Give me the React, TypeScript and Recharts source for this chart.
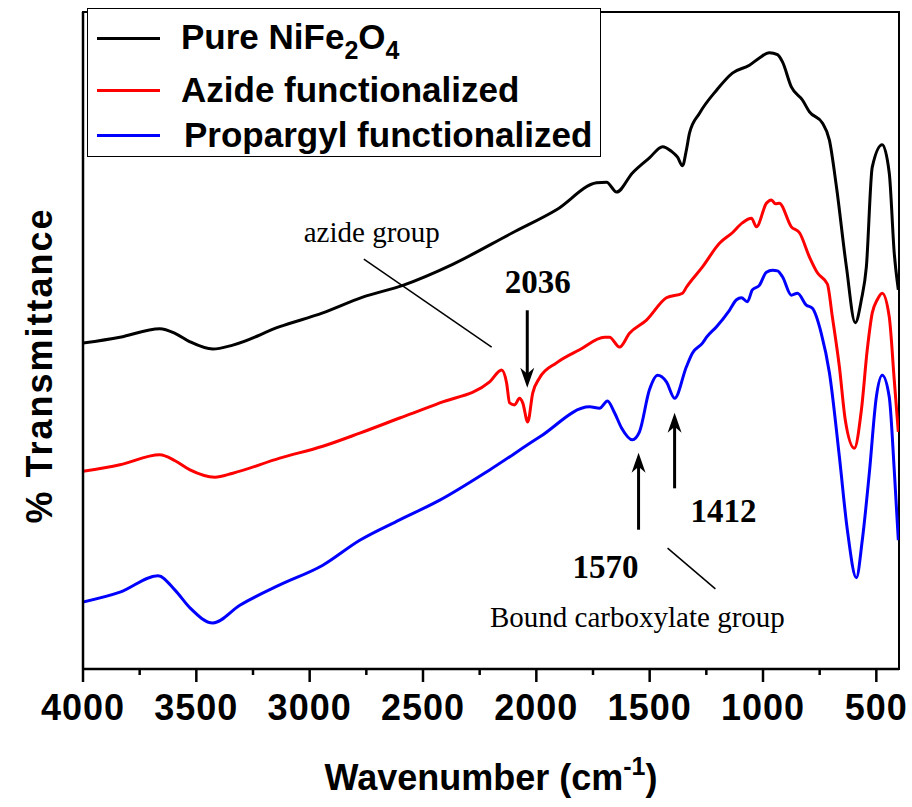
import React from "react";
import {
  LineChart,
  Line,
  XAxis,
  YAxis,
  Legend,
  ReferenceArea,
  ReferenceLine,
  ReferenceDot,
} from "recharts";

// FTIR spectra, values (wavenumber cm-1 / relative % T)
const pureWn = [4000, 3837, 3661, 3594, 3528, 3427, 3339, 3132, 2942, 2766, 2589, 2369, 2105, 1911, 1734, 1690, 1646, 1576, 1501, 1443, 1404, 1377, 1355, 1338, 1324, 1280, 1205, 1135, 1060, 1016, 972, 936, 914, 875, 826, 795, 738, 707, 676, 632, 593, 566, 544, 518, 474, 443, 421, 403];
const pureT = [49.6, 50.5, 51.8, 51.1, 49.8, 48.7, 49.3, 52.1, 54.2, 56.6, 58.4, 61.6, 66.4, 69.9, 74.0, 74.1, 72.6, 75.5, 77.8, 79.5, 78.8, 77.9, 76.6, 79.0, 81.6, 84.6, 88.1, 90.7, 91.9, 93.0, 93.8, 93.5, 92.4, 88.6, 86.6, 84.8, 83.1, 80.5, 73.4, 61.2, 52.7, 56.2, 61.2, 76.4, 79.8, 75.5, 63.3, 57.7];

const azideWn = [4000, 3837, 3661, 3594, 3528, 3418, 3339, 3132, 2942, 2779, 2603, 2426, 2206, 2153, 2131, 2118, 2096, 2074, 2060, 2038, 2016, 1986, 1911, 1809, 1699, 1677, 1633, 1589, 1514, 1426, 1355, 1338, 1267, 1192, 1135, 1091, 1051, 1029, 985, 963, 945, 928, 875, 839, 795, 760, 716, 694, 663, 637, 597, 566, 540, 518, 496, 474, 443, 421, 403];
const azideT = [30.1, 31.1, 32.6, 31.7, 30.3, 29.2, 29.8, 32.1, 33.9, 35.9, 38.2, 40.5, 43.7, 45.5, 43.5, 40.5, 40.2, 41.2, 40.5, 37.6, 42.0, 44.3, 46.6, 48.6, 50.5, 50.5, 49.0, 51.1, 53.1, 56.5, 57.2, 58.1, 61.2, 64.8, 66.4, 67.9, 68.6, 67.3, 70.9, 71.4, 70.8, 70.9, 67.3, 66.4, 62.7, 60.3, 58.6, 53.6, 46.0, 37.9, 33.6, 39.4, 48.6, 54.2, 56.2, 57.2, 53.6, 44.0, 36.1];

const propWn = [4000, 3837, 3669, 3594, 3528, 3427, 3308, 3132, 2942, 2779, 2603, 2426, 2206, 1986, 1765, 1721, 1686, 1655, 1624, 1576, 1545, 1501, 1465, 1426, 1390, 1338, 1311, 1267, 1249, 1205, 1148, 1117, 1095, 1069, 1047, 1016, 985, 958, 936, 914, 875, 848, 809, 782, 743, 707, 663, 628, 588, 562, 531, 500, 474, 443, 421, 403];
const propT = [10.2, 11.7, 14.2, 12.0, 9.3, 7.0, 9.7, 12.8, 15.8, 19.6, 22.7, 25.7, 30.3, 35.3, 39.9, 39.7, 40.8, 39.0, 36.7, 34.9, 36.1, 42.5, 44.7, 43.7, 41.2, 46.0, 48.1, 49.6, 50.5, 52.1, 54.6, 56.2, 56.5, 55.9, 57.7, 58.4, 60.4, 60.7, 60.6, 59.7, 56.9, 57.2, 55.4, 54.9, 51.1, 45.1, 32.3, 21.2, 13.9, 19.6, 29.8, 41.4, 44.7, 41.4, 30.3, 19.6];

const seriesNames = ["Pure NiFe2O4", "Azide functionalized", "Propargyl functionalized"];
const seriesColors = ["#000000", "#ff0000", "#0000ff"];

const xTicks = [4000, 3750, 3500, 3250, 3000, 2750, 2500, 2250, 2000, 1750, 1500, 1250, 1000, 750, 500];

// annotation arrows: wavenumber, tail %T, head %T
const arrowWn = [2040, 1549, 1390];
const arrowFrom = [54.6, 21.2, 27.5];
const arrowTo = [42.8, 32.9, 39.0];

// thin leader lines
const leaderWn = [[2761, 2197], [1421, 1210]];
const leaderT = [[62.4, 49.0], [18.4, 12.2]];

const noteText = ["azide group", "2036", "1570", "1412", "Bound carboxylate group"];
const noteWn = [2726, 1994, 1695, 1174, 1554];
const noteT = [65.0, 57.2, 13.9, 22.4, 6.4];
const noteBold = [false, true, true, true, false];

const SANS = '"Liberation Sans", Arial, Helvetica, sans-serif';
const SERIF = '"Liberation Serif", "Times New Roman", Times, serif';

const toData = (wn: number[], t: number[]) => wn.map((w, i) => ({ wn: w, t: t[i] }));
const series = [toData(pureWn, pureT), toData(azideWn, azideT), toData(propWn, propT)];

const AxisTick = (props: any) => {
  const { x, y, payload } = props;
  const major = payload.value % 500 === 0;
  return (
    <g>
      <line x1={x} x2={x} y1={y} y2={y + (major ? 13 : 6)} stroke="#000" strokeWidth={2.5} />
      {major && (
        <text x={x} y={y + 51} textAnchor="middle" fontFamily={SANS} fontWeight="bold" fontSize={36} letterSpacing={1} fill="#000">
          {payload.value}
        </text>
      )}
    </g>
  );
};

const ArrowShape = (p: any) => {
  const { x1, y1, x2, y2 } = p;
  const dir = y2 > y1 ? 1 : -1;
  const len = 20;
  const half = 7;
  const pts = `${x2},${y2} ${x2 - half},${y2 - dir * len} ${x2},${y2 - dir * (len - 6)} ${x2 + half},${y2 - dir * len}`;
  return (
    <g>
      <line x1={x1} y1={y1} x2={x2} y2={y2 - dir * 12} stroke="#000" strokeWidth={3} />
      <polygon points={pts} fill="#000" />
    </g>
  );
};

const renderName = (name: string) =>
  name.split(/(\d)/).map((part, i) =>
    /\d/.test(part) ? (
      <span key={i} style={{ fontSize: 25, position: "relative", top: 10 }}>
        {part}
      </span>
    ) : (
      <span key={i}>{part}</span>
    )
  );

const LegendBox = () => {
  const centers = [29, 81, 126];
  return (
    <div
      style={{
        position: "relative",
        width: 514,
        height: 149,
        border: "1.5px solid #000",
        boxSizing: "border-box",
        background: "#fff",
        fontFamily: SANS,
        fontWeight: "bold",
        fontSize: 35,
        color: "#000",
      }}
    >
      {seriesNames.map((name, i) => (
        <div
          key={name}
          style={{
            position: "absolute",
            left: 0,
            top: centers[i] - 20,
            height: 40,
            lineHeight: "40px",
            display: "flex",
            alignItems: "center",
            whiteSpace: "nowrap",
          }}
        >
          <div style={{ marginLeft: 9, width: 63, height: 3, background: seriesColors[i] }} />
          <div style={{ marginLeft: i === 2 ? 24 : 21 }}>{renderName(name)}</div>
        </div>
      ))}
    </div>
  );
};

export default function App() {
  return (
    <div style={{ position: "absolute", left: 0, top: 0, background: "#fff" }}>
      <LineChart width={912} height={807} margin={{ top: 12, right: 13, left: 0, bottom: 0 }}>
        <XAxis
          dataKey="wn"
          type="number"
          domain={[400, 4000]}
          reversed
          allowDataOverflow
          ticks={xTicks}
          interval={0}
          height={138}
          tickSize={0}
          tickMargin={0}
          tick={<AxisTick />}
          axisLine={{ stroke: "#000", strokeWidth: 2.5 }}
          label={{
            content: (p: any) => {
              const vb = p.viewBox;
              return (
                <text x={vb.x + vb.width / 2} y={vb.y + 121} textAnchor="middle" fontFamily={SANS} fontWeight="bold" fontSize={36} fill="#000">
                  Wavenumber (cm
                  <tspan dy={-15} fontSize={25}>-1</tspan>
                  <tspan dy={15}>)</tspan>
                </text>
              );
            },
          }}
        />
        <YAxis
          type="number"
          domain={[0, 100]}
          width={83}
          tick={false}
          tickLine={false}
          axisLine={{ stroke: "#000", strokeWidth: 2.5 }}
          label={{
            content: (p: any) => {
              const vb = p.viewBox;
              const cx = vb.x + 52;
              const cy = vb.y + vb.height / 2 + 25;
              return (
                <text x={cx} y={cy} transform={`rotate(-90 ${cx} ${cy})`} textAnchor="middle" fontFamily={SANS} fontWeight="bold" fontSize={36} letterSpacing={2} fill="#000">
                  % Transmittance
                </text>
              );
            },
          }}
        />
        <ReferenceArea x1={4000} x2={400} y1={0} y2={100} fill="none" stroke="#000" strokeWidth={2} />

        {series.map((d, i) => (
          <Line
            key={seriesNames[i]}
            data={d}
            dataKey="t"
            name={seriesNames[i]}
            type="monotone"
            stroke={seriesColors[i]}
            strokeWidth={3}
            dot={false}
            isAnimationActive={false}
          />
        ))}

        {leaderWn.map((w, i) => (
          <ReferenceLine
            key={"lead" + i}
            segment={[
              { x: w[0], y: leaderT[i][0] },
              { x: w[1], y: leaderT[i][1] },
            ]}
            stroke="#000"
            strokeWidth={1.5}
          />
        ))}
        {arrowWn.map((w, i) => (
          <ReferenceLine
            key={"arrow" + i}
            segment={[
              { x: w, y: arrowFrom[i] },
              { x: w, y: arrowTo[i] },
            ]}
            shape={ArrowShape}
          />
        ))}
        {noteText.map((t, i) => (
          <ReferenceDot
            key={t}
            x={noteWn[i]}
            y={noteT[i]}
            r={0}
            shape={(p: any) => (
              <text
                x={p.cx}
                y={p.cy}
                textAnchor="middle"
                fontFamily={SERIF}
                fontWeight={noteBold[i] ? "bold" : "normal"}
                fontSize={noteBold[i] ? 33 : 29}
                fill="#000"
              >
                {t}
              </text>
            )}
          />
        ))}

        <Legend
          layout="vertical"
          align="center"
          verticalAlign="middle"
          width={514}
          height={149}
          wrapperStyle={{ left: 87, top: 8, width: 514, height: 149 }}
          content={() => <LegendBox />}
        />
      </LineChart>
    </div>
  );
}
